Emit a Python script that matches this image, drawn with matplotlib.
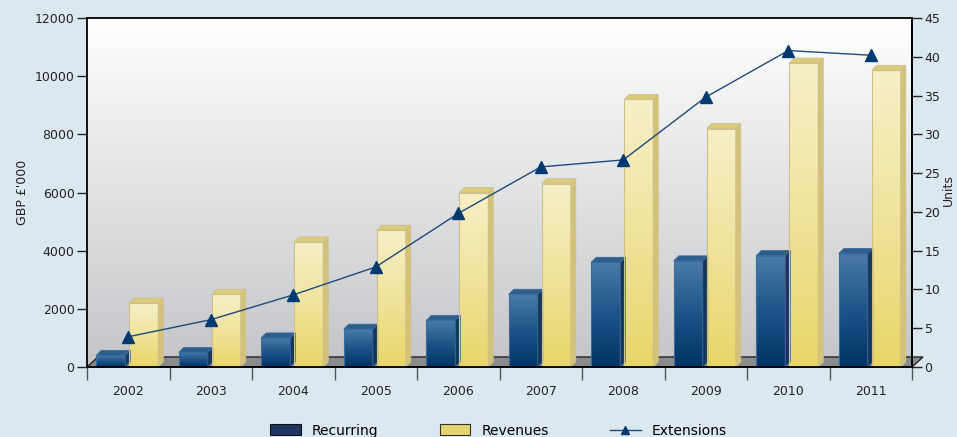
import numpy as np
import matplotlib
matplotlib.use("Agg")
import matplotlib.pyplot as plt
from matplotlib.patches import Polygon, Patch
from matplotlib.lines import Line2D
from matplotlib.colors import LinearSegmentedColormap

years = ["2002", "2003", "2004", "2005", "2006", "2007", "2008", "2009", "2010", "2011"]
recurring = [400, 500, 1000, 1300, 1600, 2500, 3600, 3650, 3830, 3900]
revenues = [2200, 2500, 4300, 4700, 6000, 6300, 9200, 8200, 10450, 10200]
extensions = [3.9, 6.1, 9.3, 12.9, 19.8, 25.8, 26.7, 34.8, 40.8, 40.2]

W, H = 957, 437
fig = plt.figure(figsize=(W / 100, H / 100), dpi=100)
fig.patch.set_facecolor("#dce8ef")

L, R, T, B = 87, 912, 18, 367
ax = fig.add_axes([L / W, (H - B) / H, (R - L) / W, (B - T) / H])
ax.set_xlim(-0.5, len(years) - 0.5)
ax.set_ylim(0, 12000)
ax.set_facecolor("none")

xpp = (len(years)) / (R - L)   # data x per pixel
ypp = 12000 / (B - T)          # data y per pixel

# background wall gradient (white at top, grey at bottom)
wall = np.linspace(0, 1, 256).reshape(-1, 1)
wall_cmap = LinearSegmentedColormap.from_list("wall", ["#ffffff", "#c4c5c8"])
ax.imshow(wall, extent=[-0.5, len(years) - 0.5, 0, 12000], aspect="auto",
          cmap=wall_cmap, zorder=0, origin="upper")

# floor
fd = 10
floor = Polygon([(-0.5, 0), (len(years) - 0.5, 0),
                 (len(years) - 0.5 + 11 * xpp, fd * ypp), (-0.5 + 11 * xpp, fd * ypp)],
                closed=True, facecolor="#8a8b8d", edgecolor="#222222", lw=1.0,
                zorder=1, clip_on=False)
ax.add_patch(floor)

bw = 29 * xpp
dx, dy = 5 * xpp, 5 * ypp
off_rec = -17.5 * xpp
off_rev = 15.5 * xpp

rec_cmap = LinearSegmentedColormap.from_list("rec", ["#4b7baa", "#1d5488", "#003366"])
rev_cmap = LinearSegmentedColormap.from_list("rev", ["#f7f0c8", "#f0e39c", "#e8d668"])
grad = np.linspace(0, 1, 256).reshape(-1, 1)

def bar3d(xc, h, cmap, top_c, side_c, edge_c):
    x0, x1 = xc - bw / 2, xc + bw / 2
    ax.imshow(grad, extent=[x0, x1, 0, h], aspect="auto", cmap=cmap,
              zorder=3, origin="upper")
    ax.add_patch(Polygon([(x0, 0), (x1, 0), (x1, h), (x0, h)], closed=True,
                         fill=False, edgecolor=edge_c, lw=0.8, zorder=4))
    ax.add_patch(Polygon([(x0, h), (x1, h), (x1 + dx, h + dy), (x0 + dx, h + dy)],
                         closed=True, facecolor=top_c, edgecolor=edge_c, lw=0.6, zorder=4))
    ax.add_patch(Polygon([(x1, 0), (x1 + dx, dy), (x1 + dx, h + dy), (x1, h)],
                         closed=True, facecolor=side_c, edgecolor=edge_c, lw=0.6, zorder=4))

x = np.arange(len(years))
for i in range(len(years)):
    bar3d(x[i] + off_rec, recurring[i], rec_cmap, "#2e5e8c", "#16365a", "#3a6d9c")
    bar3d(x[i] + off_rev, revenues[i], rev_cmap, "#dccb7c", "#d3c37a", "#cfc08a")
ax.set_ylim(0, 12000)
ax.set_xlim(-0.5, len(years) - 0.5)

# spines / ticks
for s in ["left", "right", "top", "bottom"]:
    ax.spines[s].set_color("#000000")
    ax.spines[s].set_linewidth(1.3)
    ax.spines[s].set_zorder(6)
ax.set_yticks([0, 2000, 4000, 6000, 8000, 10000, 12000])
ax.tick_params(axis="y", direction="out", length=7, width=1, labelsize=9,
               colors="#222222", pad=2)
ax.set_xticks(np.arange(-0.5, len(years) - 0.4, 1.0))
ax.set_xticklabels([])
ax.tick_params(axis="x", which="major", direction="out", length=9, width=1,
               color="#555555")
ax.set_xticks(x, minor=True)
ax.set_xticklabels(years, minor=True)
ax.tick_params(axis="x", which="minor", length=0, labelsize=9, pad=13,
               labelcolor="#222222")
ax.set_ylabel("GBP £'000", fontsize=9, color="#222222", labelpad=4)

ax2 = ax.twinx()
ax2.set_ylim(0, 45)
ax2.set_yticks(range(0, 46, 5))
ax2.tick_params(axis="y", direction="out", length=7, width=1, labelsize=9,
                colors="#222222", pad=2)
for s in ["left", "right", "top", "bottom"]:
    ax2.spines[s].set_visible(False)
ax2.plot(x, extensions, color="#1f4a7a", lw=1.0, marker="^", markersize=9,
         markerfacecolor="#003a70", markeredgecolor="#003a70", zorder=10)
ax2.spines["right"].set_visible(True)
ax2.spines["right"].set_color("#000000")
ax2.spines["right"].set_linewidth(1.3)
fig.text(948 / W, 1 - 190 / H, "Units", rotation=90, fontsize=9, color="#222222",
         ha="center", va="center")

handles = [Patch(facecolor="#1f3564", edgecolor="#111111", lw=0.8),
           Patch(facecolor="#e6d670", edgecolor="#333333", lw=0.8),
           Line2D([], [], color="#1f4a7a", lw=1.0, marker="^", markersize=6,
                  markerfacecolor="#003a70", markeredgecolor="#003a70")]
fig.legend(handles, ["Recurring", "Revenues", "Extensions"], loc="lower center",
           bbox_to_anchor=(0.521, -0.03), ncol=3, frameon=False, fontsize=10,
           handlelength=2.2, handleheight=0.8, columnspacing=4.4, handletextpad=0.8)

fig.savefig("out.png", dpi=100, facecolor=fig.get_facecolor())
